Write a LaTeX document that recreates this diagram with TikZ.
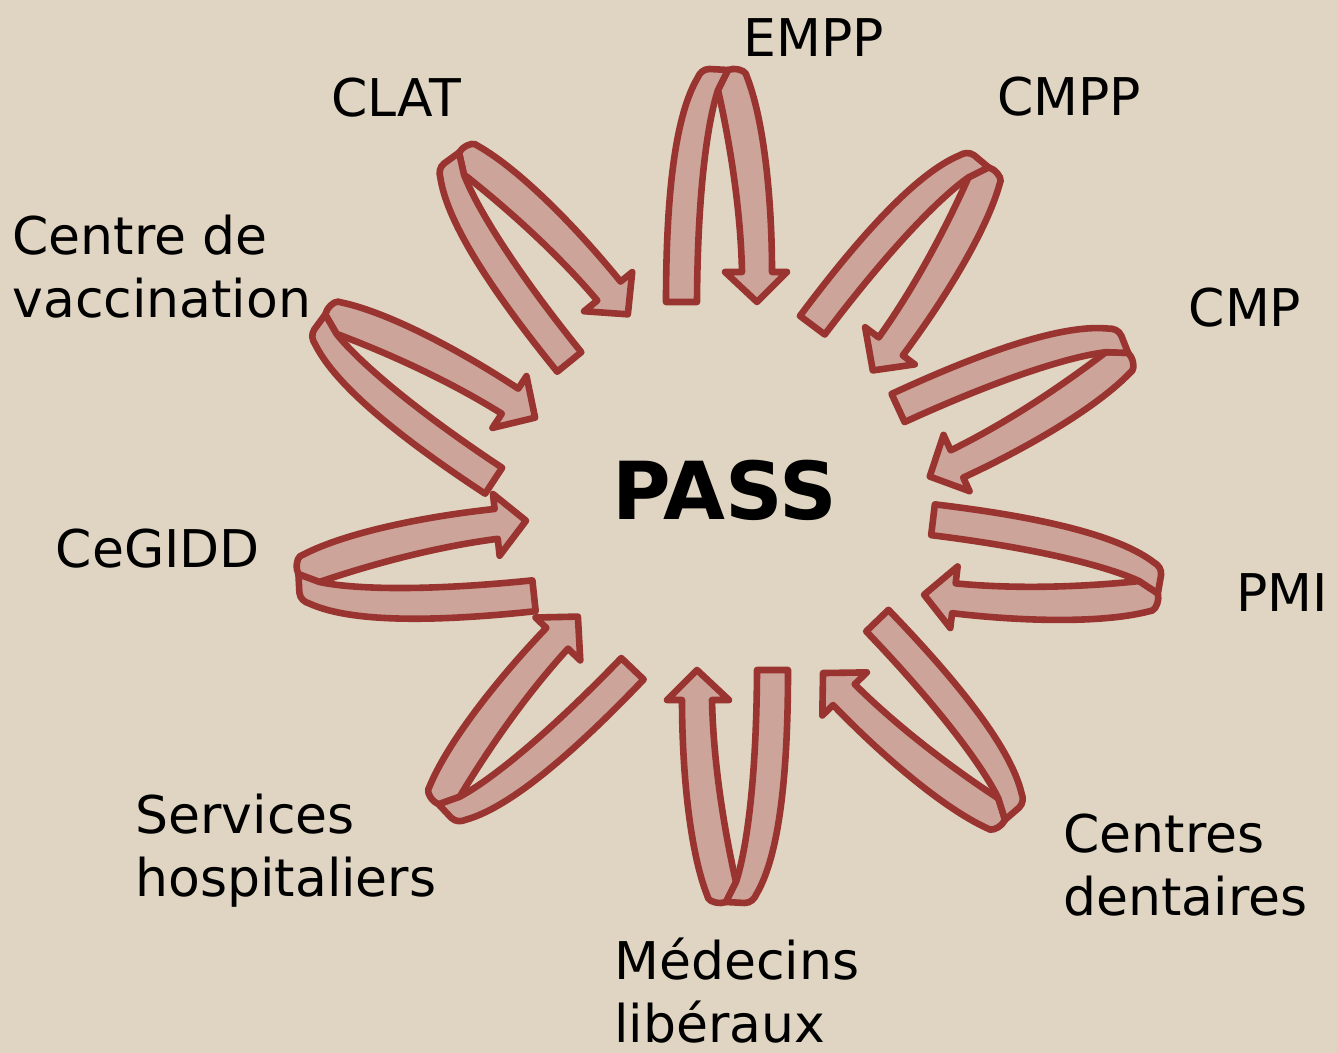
\documentclass[tikz,border=0pt]{standalone}
\usepackage{fontspec}
\setmainfont{DejaVu Sans}
\definecolor{bgbeige}{RGB}{223, 213, 194}
\definecolor{loopred}{RGB}{153, 52, 48}
\definecolor{looppink}{RGB}{204, 164, 154}

\tikzset{
  ribbon/.style={draw=loopred, fill=looppink, line width=3.3pt, line join=round},
  lbl/.style={font=\fontsize{26}{31.5}\selectfont, inner sep=0pt, align=left}
}

% one u-turn ribbon: origin between its two ends, axis angle towards the loop
\newcommand{\passloop}[3]{%
  \begin{scope}[shift={(#1,#2)}, rotate=#3-90]
    % head leg, behind
    \filldraw[ribbon] (8.5,232) -- (13.5,233) .. controls (22,233) and (27,230) .. (27.5,225)
      .. controls (45,180) and (52.5,100) .. (52.5,30) -- (67.5,30) -- (37.5,0) -- (5.5,30) -- (22.5,30)
      .. controls (21,100) and (8,170) .. (-1.5,212) -- cycle;
    % tail leg, in front
    \filldraw[ribbon] (-53.5,0) -- (-22.5,0) .. controls (-22,110) and (-12,180) .. (-1.5,212)
      -- (8.5,232) -- (-10,233) .. controls (-16,233) and (-20,229) .. (-22,224)
      .. controls (-42,190) and (-53.5,120) .. (-53.5,0) -- cycle;
  \end{scope}}

\begin{document}
\begin{tikzpicture}[x=0.5pt, y=0.5pt]
  \useasboundingbox (0,0) rectangle (1337,1053);
  \fill[bgbeige] (0,0) rectangle (1337,1053);

  % Ribbons round the centre
  \passloop{719.5}{751}{90}
  \passloop{842.75}{705}{53.2}
  \passloop{914}{610.5}{24.8}
  \passloop{928.5}{495.5}{-6.8}
  \passloop{850}{406}{-46}
  \passloop{734.5}{383}{-90}
  \passloop{605}{410.5}{226.3}
  \passloop{530}{495}{186.1}
  \passloop{514.5}{604}{146.7}
  \passloop{598.75}{715}{129.1}

  % Centre
  \node[font=\fontsize{40}{48}\selectfont\bfseries, inner sep=0pt] (pass) at (725,563) {PASS};

  % Partners
  \node[lbl] (empp) at (814,1015) {EMPP};
  \node[lbl] (cmpp) at (1069,956) {CMPP};
  \node[lbl] (cmp) at (1245,745) {CMP};
  \node[lbl] (pmi) at (1282,460) {PMI};
  \node[lbl, anchor=west] (dent) at (1063,188) {Centres\\dentaires};
  \node[lbl, anchor=west] (medlib) at (614,62) {Médecins\\libéraux};
  \node[lbl, anchor=west] (hosp) at (135,202) {Services\\hospitaliers};
  \node[lbl] (cegidd) at (158,504) {CeGIDD};
  \node[lbl, anchor=west] (vacc) at (12,786.5) {Centre de\\vaccination};
  \node[lbl] (clat) at (396,955) {CLAT};
\end{tikzpicture}
\end{document}
